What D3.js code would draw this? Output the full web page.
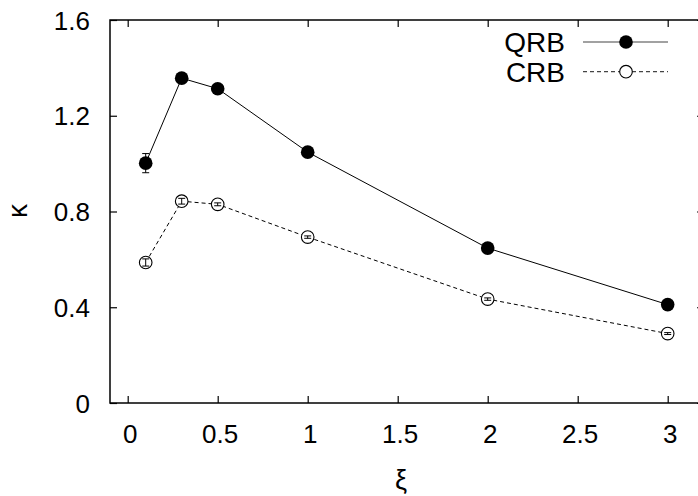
<!DOCTYPE html>
<html><head><meta charset="utf-8">
<script src="https://cdn.jsdelivr.net/npm/d3@7"></script>
<style>body{margin:0;background:#fff}svg{display:block}</style>
</head><body>
<svg id="c" width="698" height="496"></svg>
<script>
const xs = [0.1, 0.3, 0.5, 1, 2, 3];
const qrb = [1.002, 1.357, 1.313, 1.048, 0.647, 0.411];
const qrbErr = [0.04, 0.008, 0.008, 0.006, 0.005, 0.005];
const crb = [0.587, 0.843, 0.830, 0.693, 0.434, 0.290];
const crbErr = [0.015, 0.012, 0.006, 0.005, 0.005, 0.004];
const xTicks = [0, 0.5, 1, 1.5, 2, 2.5, 3];
const yTicks = [0, 0.4, 0.8, 1.2, 1.6];
const seriesNames = ["QRB", "CRB"];

const svg = d3.select("#c");
const L = 110, R = 704, T = 20, B = 403;
const x = d3.scaleLinear().domain([-0.0983, 3.2017]).range([L, R]);
const y = d3.scaleLinear().domain([0, 1.6]).range([B, T]);
const font = "'Liberation Sans', Arial, sans-serif";

const g = svg.append("g");
g.append("rect").attr("x", L).attr("y", T).attr("width", R - L).attr("height", B - T)
  .attr("fill", "none").attr("stroke", "#000").attr("stroke-width", 1.5);

const tl = 7;
const ax = d3.axisBottom(x).tickValues(xTicks).tickSize(tl).tickFormat(d3.format("~g"));
const xa = g.append("g").attr("transform", `translate(0,${B})`).call(ax);
xa.select(".domain").remove();
xa.selectAll(".tick line").attr("y2", -tl).attr("stroke-width", 1.2);
xa.selectAll(".tick text").attr("x", 2).attr("y", 40).attr("dy", null).attr("font-size", 26).attr("font-family", font).attr("fill", "#000");
const xt = g.append("g").attr("transform", `translate(0,${T})`).call(d3.axisTop(x).tickValues(xTicks).tickSize(tl).tickFormat(""));
xt.select(".domain").remove();
xt.selectAll(".tick line").attr("y2", tl).attr("stroke-width", 1.2);

const ay = d3.axisLeft(y).tickValues(yTicks).tickSize(tl).tickFormat(d3.format("~g"));
const ya = g.append("g").attr("transform", `translate(${L},0)`).call(ay);
ya.select(".domain").remove();
ya.selectAll(".tick line").attr("x2", tl).attr("stroke-width", 1.2);
ya.selectAll(".tick text").attr("x", -20).attr("y", 9).attr("dy", null).attr("font-size", 26).attr("font-family", font).attr("fill", "#000");
const yr = g.append("g").attr("transform", `translate(${R},0)`).call(d3.axisRight(y).tickValues(yTicks).tickSize(tl).tickFormat(""));
yr.select(".domain").remove();
yr.selectAll(".tick line").attr("x2", -tl).attr("stroke-width", 1.2);

// axis titles
g.append("text").attr("transform", "translate(27,211) rotate(-90)").attr("text-anchor", "middle")
  .attr("font-size", 28).attr("font-family", font).text("κ");
g.append("text").attr("x", 401).attr("y", 489).attr("text-anchor", "middle")
  .attr("font-size", 27).attr("font-family", font).text("ξ");

const line = d3.line().x(d => x(d[0])).y(d => y(d[1]));
function drawSeries(vals, errs, filled, dash) {
  const pts = xs.map((v, i) => [v, vals[i]]);
  g.append("path").datum(pts).attr("d", line).attr("fill", "none").attr("stroke", "#000")
    .attr("stroke-width", 1).attr("stroke-dasharray", dash);
  pts.forEach((p, i) => {
    const cx = x(p[0]), y1 = y(p[1] - errs[i]), y2 = y(p[1] + errs[i]);
    if (filled) {
      g.append("circle").attr("cx", cx).attr("cy", y(p[1])).attr("r", 6.8).attr("fill", "#000");
    } else {
      g.append("circle").attr("cx", cx).attr("cy", y(p[1])).attr("r", 6.3).attr("fill", "#fff").attr("stroke", "#000").attr("stroke-width", 1.1);
    }
    g.append("line").attr("x1", cx).attr("x2", cx).attr("y1", y1).attr("y2", y2).attr("stroke", "#000").attr("stroke-width", 1);
    [y1, y2].forEach(yy => g.append("line").attr("x1", cx - 3.5).attr("x2", cx + 3.5).attr("y1", yy).attr("y2", yy).attr("stroke", "#000").attr("stroke-width", 1));
  });
}
drawSeries(qrb, qrbErr, true, null);
drawSeries(crb, crbErr, false, "4,3");

const leg = [{name: seriesNames[0], filled: true, dash: null, y: 42},
             {name: seriesNames[1], filled: false, dash: "4,3", y: 71.7}];
leg.forEach(l => {
  g.append("text").attr("x", 565).attr("y", l.y + 10).attr("text-anchor", "end")
    .attr("font-size", 28).attr("font-family", font).text(l.name);
  g.append("line").attr("x1", 583).attr("x2", 668).attr("y1", l.y).attr("y2", l.y)
    .attr("stroke", "#444").attr("stroke-width", 1.2).attr("stroke-dasharray", l.dash);
  if (l.filled) g.append("circle").attr("cx", 626).attr("cy", l.y).attr("r", 6.8).attr("fill", "#000");
  else g.append("circle").attr("cx", 626).attr("cy", l.y).attr("r", 6.3).attr("fill", "#fff").attr("stroke", "#000").attr("stroke-width", 1.1);
});
</script>
</body></html>
